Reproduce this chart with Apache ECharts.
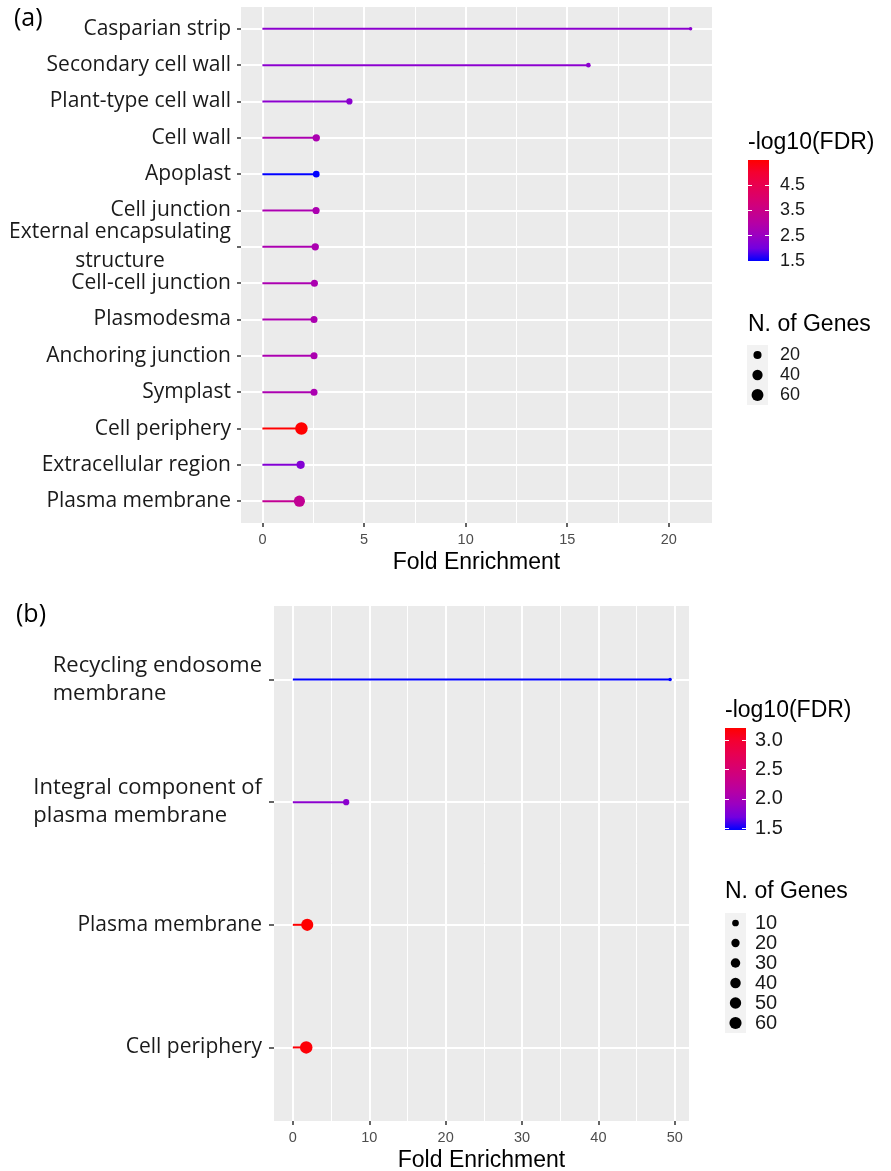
<!DOCTYPE html>
<html>
<head>
<meta charset="utf-8">
<script src="https://cdn.jsdelivr.net/npm/echarts@6/dist/echarts.min.js"></script>
<style>html,body{margin:0;padding:0;background:#fff}#c{width:891px;height:1171px}</style>
</head>
<body>
<div id="c"></div>
<script>
// ---------- data ----------
const termsA = ['Casparian strip','Secondary cell wall','Plant-type cell wall','Cell wall','Apoplast','Cell junction','External encapsulating\nstructure','Cell-cell junction','Plasmodesma','Anchoring junction','Symplast','Cell periphery','Extracellular region','Plasma membrane'];
const foldA  = [21.07, 16.04, 4.28, 2.65, 2.65, 2.64, 2.6, 2.56, 2.54, 2.54, 2.54, 1.92, 1.88, 1.82];
const fdrA   = [2.3, 2.3, 2.3, 2.8, 1.5, 2.8, 2.8, 2.8, 2.8, 2.8, 2.8, 5.48, 2.2, 3.3];
const genesA = [3, 4, 9, 15, 11, 14, 15, 13, 13, 13, 13, 68, 21, 50];

const termsB = ['Recycling endosome\nmembrane','Integral component of\nplasma membrane','Plasma membrane','Cell periphery'];
const foldB  = [49.39, 6.98, 1.88, 1.75];
const fdrB   = [1.47, 1.82, 3.21, 3.18];
const genesB = [2, 8, 60, 65];

const xTicksA = [0, 5, 10, 15, 20];
const xTicksB = [0, 10, 20, 30, 40, 50];
const fdrTicksA = [1.5, 2.5, 3.5, 4.5];
const fdrTicksB = [1.5, 2.0, 2.5, 3.0];
const genesLegendA = [20, 40, 60];
const genesLegendB = [10, 20, 30, 40, 50, 60];

// ---------- styles ----------
const palette = ['#0000FF','#7300E0','#9A00C2','#B500A5','#C90088','#DA006C','#E80050','#F40031','#FF0000'];
const LABEL_FONT = 'Open Sans';
const SANS = 'Liberation Sans';

// ---------- helpers ----------
function range(a){ return [Math.min(...a), Math.max(...a)]; }
function mids(t){ const m=[]; for(let i=0;i<t.length-1;i++) m.push((t[i]+t[i+1])/2); return m; }
function sizeScale(a, dmin, dmax){
  const [lo, hi] = range(a);
  return n => dmin + (dmax - dmin) * Math.sqrt(Math.max(0, n - lo) / (hi - lo));
}
const sizeA = sizeScale(genesA, 3.5, 12.5);
const sizeB = sizeScale(genesB, 3.5, 12.5);
const rowsA = foldA.map((f, i) => [f, i, fdrA[i], genesA[i]]);
const rowsB = foldB.map((f, i) => [f, i, fdrB[i], genesB[i]]);
const fdrRangeA = range(fdrA);
const fdrRangeB = range(fdrB);

function termFormatter(terms){
  return v => {
    const t = terms[Math.round(v)];
    if (t === undefined) return '';
    if (t.indexOf('\n') < 0) return t;
    return t.split('\n').map(l => '{m|' + l + '}').join('\n');
  };
}

function mainAxes(gi, fold, terms, ticks, o){
  const mx = Math.max(...fold);
  const xmin = -0.05 * mx, xmax = 1.05 * mx;
  const idx = terms.map((_, i) => i);
  const xMain = {
    gridIndex: gi, type: 'value', position: 'bottom', min: xmin, max: xmax, z: 3,
    axisLine: {show: false, onZero: false},
    axisTick: {show: true, customValues: ticks, length: 4, lineStyle: {color: '#333', width: 1.5}},
    axisLabel: {customValues: ticks, color: '#4D4D4D', fontSize: 14.5, margin: 9, fontFamily: SANS},
    splitLine: {show: true, customValues: ticks, lineStyle: {color: '#fff', width: 2}},
    name: 'Fold Enrichment', nameLocation: 'middle', nameGap: 28,
    nameTextStyle: {fontSize: 23, color: '#000', fontFamily: SANS}
  };
  const xMinor = {
    gridIndex: gi, type: 'value', position: 'bottom', min: xmin, max: xmax,
    axisLine: {show: false, onZero: false},
    axisTick: {show: false, customValues: mids(ticks)},
    axisLabel: {show: false, customValues: mids(ticks)},
    splitLine: {show: true, customValues: mids(ticks), lineStyle: {color: '#fff', width: 1}}
  };
  const y = {
    gridIndex: gi, type: 'value', position: 'left', inverse: true, min: -0.6, max: terms.length - 1 + 0.6, z: 3,
    axisLine: {show: false, onZero: false},
    axisTick: {show: true, customValues: idx, length: o.tickLen, lineStyle: {color: '#333', width: 1.5}},
    axisLabel: {
      customValues: idx, formatter: termFormatter(terms), margin: o.margin,
      fontSize: o.fontSize, color: '#1a1a1a', fontFamily: LABEL_FONT, lineHeight: o.lineHeight,
      rich: {m: {align: o.multiAlign, fontSize: o.multiSize, fontFamily: LABEL_FONT, color: '#1a1a1a', lineHeight: o.lineHeight}}
    },
    splitLine: {show: true, customValues: idx, lineStyle: {color: '#fff', width: 2}}
  };
  return {x: [xMain, xMinor], y: y};
}

const axA = mainAxes(0, foldA, termsA, xTicksA, {tickLen: 4, margin: 10, fontSize: 21, multiSize: 21, lineHeight: 29, multiAlign: 'center'});
const axB = mainAxes(1, foldB, termsB, xTicksB, {tickLen: 5, margin: 12, fontSize: 21, multiSize: 22, lineHeight: 28, multiAlign: 'left'});

function colorbarAxes(gi, rng, ticks, fontSize, margin){
  const common = {gridIndex: gi, type: 'value', min: rng[0], max: rng[1], z: 5,
    axisLine: {show: false, onZero: false}, splitLine: {show: false},
    axisTick: {show: true, inside: true, customValues: ticks, length: 4, lineStyle: {color: '#fff', width: 1}}};
  const right = Object.assign({}, common, {position: 'right',
    axisLabel: {customValues: ticks, formatter: v => v.toFixed(1), fontSize: fontSize, margin: margin, color: '#1a1a1a', fontFamily: SANS}});
  const left = Object.assign({}, common, {position: 'left', axisLabel: {show: false}});
  return [right, left];
}
function sizeLegendAxis(gi, vals, fontSize, margin){
  return {gridIndex: gi, type: 'category', inverse: true, position: 'right', data: vals.map(String),
    axisLine: {show: false, onZero: false}, axisTick: {show: false}, splitLine: {show: false},
    axisLabel: {interval: 0, fontSize: fontSize, margin: margin, color: '#1a1a1a', fontFamily: SANS}};
}
const hiddenX = gi => ({gridIndex: gi, type: 'value', min: 0, max: 1, show: false, axisLine: {onZero: false}});

function stemItem(params, api){
  const s = api.coord([0, api.value(1)]);
  const e = api.coord([api.value(0), api.value(1)]);
  return {type: 'line', shape: {x1: s[0], y1: s[1], x2: e[0], y2: e[1]},
    style: {stroke: api.visual('color'), lineWidth: 2}};
}
function barItem(params, api){
  const top = api.coord([0, api.value(2)]);
  const bot = api.coord([1, api.value(1)]);
  return {type: 'rect', shape: {x: top[0], y: top[1], width: bot[0] - top[0], height: bot[1] - top[1]},
    style: {fill: new echarts.graphic.LinearGradient(0, 1, 0, 0,
      palette.map((c, i) => ({offset: i / (palette.length - 1), color: c})))}};
}

const titleStyle = {fontSize: 23, color: '#000', fontFamily: SANS, fontWeight: 'normal'};
const gridBase = {outerBoundsMode: 'none', containLabel: false, borderWidth: 0};
const option = {
  animation: false,
  backgroundColor: '#fff',
  title: [
    {text: '(a)', left: 9, top: 1, textStyle: {fontSize: 25, color: '#000', fontFamily: LABEL_FONT, fontWeight: 'normal'}},
    {text: '(b)', left: 11, top: 597, textStyle: {fontSize: 25, color: '#000', fontFamily: LABEL_FONT, fontWeight: 'normal'}},
    {text: '-log10(FDR)', left: 743, top: 126, textStyle: titleStyle},
    {text: 'N. of Genes', left: 743, top: 308, textStyle: titleStyle},
    {text: '-log10(FDR)', left: 720, top: 694, textStyle: titleStyle},
    {text: 'N. of Genes', left: 720, top: 875, textStyle: titleStyle}
  ],
  grid: [
    Object.assign({left: 241, top: 7, width: 471, height: 516, show: true, backgroundColor: '#EBEBEB'}, gridBase),
    Object.assign({left: 274, top: 606, width: 415, height: 515, show: true, backgroundColor: '#EBEBEB'}, gridBase),
    Object.assign({left: 748, top: 160, width: 21, height: 101}, gridBase),
    Object.assign({left: 747, top: 345, width: 21, height: 60, show: true, backgroundColor: '#F2F2F2'}, gridBase),
    Object.assign({left: 725, top: 728, width: 21, height: 102}, gridBase),
    Object.assign({left: 725, top: 913, width: 21, height: 120, show: true, backgroundColor: '#F2F2F2'}, gridBase)
  ],
  xAxis: [axA.x[1], axA.x[0], axB.x[1], axB.x[0], hiddenX(2), hiddenX(3), hiddenX(4), hiddenX(5)],
  yAxis: [axA.y, axB.y,
    ...colorbarAxes(2, fdrRangeA, fdrTicksA, 18, 11),
    sizeLegendAxis(3, genesLegendA, 18, 12),
    ...colorbarAxes(4, fdrRangeB, fdrTicksB, 20, 9),
    sizeLegendAxis(5, genesLegendB, 20, 9)],
  visualMap: [
    {type: 'continuous', show: false, seriesIndex: [0, 1], dimension: 2, min: fdrRangeA[0], max: fdrRangeA[1], inRange: {color: palette}},
    {type: 'continuous', show: false, seriesIndex: [2, 3], dimension: 2, min: fdrRangeB[0], max: fdrRangeB[1], inRange: {color: palette}}
  ],
  series: [
    {type: 'custom', xAxisIndex: 1, yAxisIndex: 0, data: rowsA, encode: {x: 0, y: 1}, renderItem: stemItem, z: 3},
    {type: 'scatter', xAxisIndex: 1, yAxisIndex: 0, data: rowsA, encode: {x: 0, y: 1}, symbol: 'circle', symbolSize: v => sizeA(v[3]), itemStyle: {opacity: 1}, z: 4},
    {type: 'custom', xAxisIndex: 3, yAxisIndex: 1, data: rowsB, encode: {x: 0, y: 1}, renderItem: stemItem, z: 3},
    {type: 'scatter', xAxisIndex: 3, yAxisIndex: 1, data: rowsB, encode: {x: 0, y: 1}, symbol: 'circle', symbolSize: v => sizeB(v[3]), itemStyle: {opacity: 1}, z: 4},
    {type: 'custom', xAxisIndex: 4, yAxisIndex: 2, data: [[0, fdrRangeA[0], fdrRangeA[1]]], encode: {x: 0, y: [1, 2]}, renderItem: barItem, z: 1},
    {type: 'scatter', xAxisIndex: 5, yAxisIndex: 4, data: genesLegendA.map((g, i) => [0.5, i, g]), symbol: 'circle', symbolSize: v => sizeA(v[2]), itemStyle: {color: '#000', opacity: 1}},
    {type: 'custom', xAxisIndex: 6, yAxisIndex: 5, data: [[0, fdrRangeB[0], fdrRangeB[1]]], encode: {x: 0, y: [1, 2]}, renderItem: barItem, z: 1},
    {type: 'scatter', xAxisIndex: 7, yAxisIndex: 7, data: genesLegendB.map((g, i) => [0.5, i, g]), symbol: 'circle', symbolSize: v => sizeB(v[2]), itemStyle: {color: '#000', opacity: 1}}
  ]
};
const chart = echarts.init(document.getElementById('c'));
chart.setOption(option);
</script>
</body>
</html>
